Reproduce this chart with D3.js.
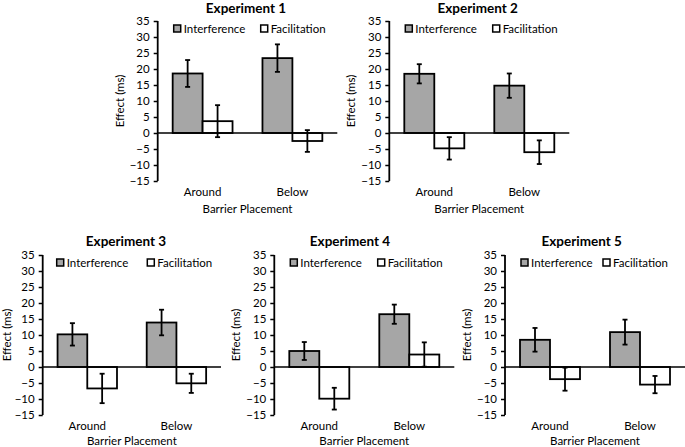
<!DOCTYPE html>
<html><head><meta charset="utf-8">
<script src="https://cdn.jsdelivr.net/npm/d3@7"></script>
<style>
html,body{margin:0;padding:0;background:#fff;}
svg{display:block;font-family:Lato,"Open Sans",sans-serif;}
</style></head>
<body>
<svg id="chart" width="685" height="447"></svg>
<script>
// ---- data ----
const titles = ["Experiment 1","Experiment 2","Experiment 3","Experiment 4","Experiment 5"];
const categories = ["Around","Below"];
const seriesNames = ["Interference","Facilitation"];
const interference = [[18.6,23.4],[18.5,14.8],[10.2,13.9],[5.0,16.5],[8.5,10.9]];
const interferenceErr = [[4.2,4.3],[3.0,3.8],[3.5,4.0],[2.8,3.0],[3.7,3.9]];
const facilitation = [[3.7,-2.5],[-4.8,-6.0],[-6.7,-5.1],[-9.9,3.9],[-3.8,-5.5]];
const facilitationErr = [[5.0,3.4],[3.5,3.7],[4.6,3.0],[3.4,3.8],[3.6,2.7]];
const yTicks = [35,30,25,20,15,10,5,0,-5,-10,-15];
const yLabel = "Effect (ms)";
const xLabel = "Barrier Placement";

// ---- layout ----
const panels = [
  {x0:157.7, x1:337.3, yt:21,  yb:181, tx:246,   ty:12.5,  l1:16, l2:103,   lab:37,   xl:32},
  {x0:389.3, x1:569.3, yt:21,  yb:181, tx:477.7, ty:12.5,  l1:16, l2:103.4, lab:37,   xl:32},
  {x0:42.7,  x1:221,   yt:255, yb:415, tx:126,   ty:245.5, l1:14, l2:104.6, lab:35,   xl:29.5},
  {x0:274.3, x1:454.3, yt:255, yb:415, tx:350,   ty:245.5, l1:16, l2:103.4, lab:37,   xl:29.5},
  {x0:505,   x1:685,   yt:255, yb:415, tx:581.7, ty:245.5, l1:16, l2:98,    lab:37,   xl:29.5}
];
const fills = ["#a6a6a6","#ffffff"];
const svg = d3.select("#chart");

panels.forEach((p,i)=>{
  const g = svg.append("g");
  const y = d3.scaleLinear().domain([-15,35]).range([p.yb,p.yt]);
  const x = d3.scaleBand().domain(categories).range([p.x0,p.x1]).paddingInner(1/3).paddingOuter(1/6);
  const xs = d3.scaleBand().domain(seriesNames).range([0,x.bandwidth()]);

  // title
  g.append("text").attr("x",p.tx).attr("y",p.ty).attr("text-anchor","middle")
    .attr("font-weight","bold").attr("font-size",13.5).attr("fill","#000").text(titles[i]);

  // y axis
  const ax = g.append("g").attr("transform",`translate(${p.x0},0)`)
    .call(d3.axisLeft(y).tickValues(yTicks).tickSize(4).tickPadding(4).tickFormat(d3.format("d")));
  ax.select(".domain").attr("stroke","#000").attr("stroke-width",1.8).attr("d",`M0,${p.yt}V${p.yb}`);
  ax.selectAll(".tick line").attr("stroke","#000").attr("stroke-width",1.5);
  ax.selectAll(".tick text").attr("font-size",11.5).attr("fill","#000").attr("font-family","Lato,'Open Sans',sans-serif");

  // y label
  g.append("text").attr("transform",`translate(${p.x0-p.lab},${(p.yt+p.yb)/2}) rotate(-90)`)
    .attr("text-anchor","middle").attr("dominant-baseline","middle").attr("font-size",11.5).text(yLabel);

  // bars
  const rows = [];
  categories.forEach((c,ci)=>{
    rows.push({c, s:seriesNames[0], v:interference[i][ci], e:interferenceErr[i][ci], k:0});
    rows.push({c, s:seriesNames[1], v:facilitation[i][ci], e:facilitationErr[i][ci], k:1});
  });
  g.selectAll("rect.bar").data(rows).enter().append("rect").attr("class","bar")
    .attr("x",d=>x(d.c)+xs(d.s)).attr("width",xs.bandwidth())
    .attr("y",d=>y(Math.max(0,d.v))).attr("height",d=>Math.abs(y(d.v)-y(0)))
    .attr("fill",d=>fills[d.k]).attr("stroke","#000").attr("stroke-width",1.8);

  // zero line
  g.append("line").attr("x1",p.x0).attr("x2",p.x1).attr("y1",y(0)).attr("y2",y(0))
    .attr("stroke","#000").attr("stroke-width",1.5);

  // error bars
  const eb = g.selectAll("g.err").data(rows).enter().append("g").attr("class","err")
    .attr("stroke","#000").attr("stroke-width",1.8);
  const cx = d=>x(d.c)+xs(d.s)+xs.bandwidth()/2;
  eb.append("line").attr("x1",cx).attr("x2",cx).attr("y1",d=>y(d.v+d.e)).attr("y2",d=>y(d.v-d.e));
  eb.append("line").attr("x1",d=>cx(d)-2.5).attr("x2",d=>cx(d)+2.5).attr("y1",d=>y(d.v+d.e)).attr("y2",d=>y(d.v+d.e));
  eb.append("line").attr("x1",d=>cx(d)-2.5).attr("x2",d=>cx(d)+2.5).attr("y1",d=>y(d.v-d.e)).attr("y2",d=>y(d.v-d.e));

  // category labels
  g.selectAll("text.cat").data(categories).enter().append("text").attr("class","cat")
    .attr("x",d=>x(d)+x.bandwidth()/2).attr("y",p.yb+14.5).attr("text-anchor","middle")
    .attr("font-size",11.5).text(d=>d);
  g.append("text").attr("x",(p.x0+p.x1)/2).attr("y",p.yb+p.xl).attr("text-anchor","middle")
    .attr("font-size",11.5).text(xLabel);

  // legend
  [p.l1,p.l2].forEach((lx,k)=>{
    g.append("rect").attr("x",p.x0+lx).attr("y",p.yt+4).attr("width",7).attr("height",7)
      .attr("fill",fills[k]).attr("stroke","#000").attr("stroke-width",1.5);
    g.append("text").attr("x",p.x0+lx+10).attr("y",p.yt+11.5).attr("font-size",11.5).text(seriesNames[k]);
  });
});
</script>
</body></html>
